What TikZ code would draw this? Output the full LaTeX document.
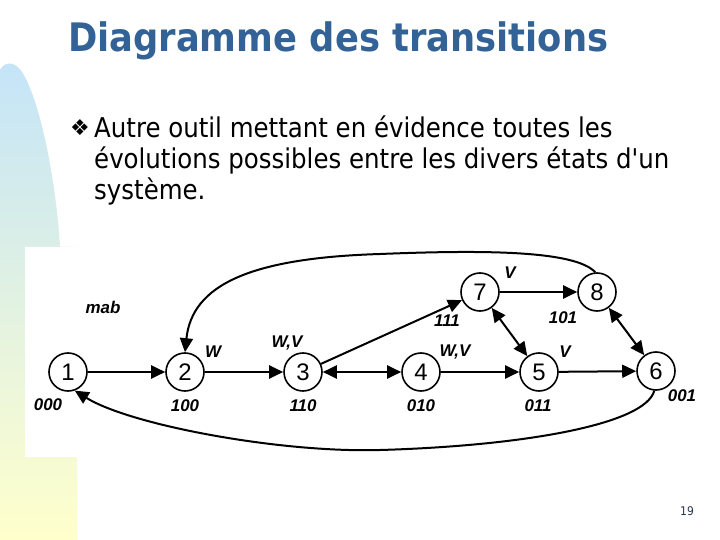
\documentclass[tikz,border=0pt]{standalone}
\usepackage{fontspec}
\setmainfont{DejaVu Sans Condensed}[Ligatures=TeXOff]
\newfontfamily\arialfont{Liberation Sans}
\newfontfamily\symbolfont{DejaVu Sans}
\usetikzlibrary{arrows.meta}
\definecolor{titleblue}{RGB}{50,98,150}
\definecolor{sideblue}{RGB}{196,228,248}
\definecolor{sideyellow}{RGB}{255,255,204}
\definecolor{pagegray}{RGB}{40,55,80}

\begin{document}
\begin{tikzpicture}[x=1bp,y=-1bp,
	>={Triangle[length=14bp,width=13bp]},
	etat/.style={draw, circle, line width=1.6bp, minimum size=38bp, inner sep=0pt, font=\arialfont\fontsize{24}{24}\selectfont},
	code/.style={font=\arialfont\bfseries\itshape\fontsize{17}{17}\selectfont, inner sep=0pt},
	trans/.style={line width=2bp, ->}]
	\useasboundingbox (0,0) rectangle (720,540);
	% Fond %
	\fill [white] (0,0) rectangle (720,540);
	\shade [top color=sideblue, bottom color=sideyellow] (0,540) -- (77,540) -- (77,247) -- (60,247) .. controls (56,180) and (40,100) .. (22,72) .. controls (14,60) and (4,62) .. (0,70) -- cycle;
	\fill [white] (25,247) rectangle (705,457);
	% Texte %
	\node [anchor=base west, inner sep=0pt, text=titleblue, font=\bfseries\fontsize{39.4}{39.4}\selectfont] (titre) at (68,52) {Diagramme des transitions};
	\node [inner sep=0pt, font=\symbolfont\fontsize{22}{22}\selectfont] (puce) at (80,128) {❖};
	\node [anchor=base west, inner sep=0pt, font=\fontsize{27.3}{27.3}\selectfont] (ligne1) at (94,138) {Autre outil mettant en évidence toutes les};
	\node [anchor=base west, inner sep=0pt, font=\fontsize{27.3}{27.3}\selectfont] (ligne2) at (94,169) {évolutions possibles entre les divers états d'un};
	\node [anchor=base west, inner sep=0pt, font=\fontsize{27.3}{27.3}\selectfont] (ligne3) at (94,200) {système.};
	\node [text=pagegray, font=\fontsize{12}{12}\selectfont] (page) at (687,511) {19};
	% Etats %
	\node [etat] (s1) at (68,372) {1};
	\node [etat] (s2) at (185,372) {2};
	\node [etat] (s3) at (303,372) {3};
	\node [etat] (s4) at (421,372) {4};
	\node [etat] (s5) at (539,372) {5};
	\node [etat] (s6) at (656,371) {6};
	\node [etat] (s7) at (480,292) {7};
	\node [etat] (s8) at (597,292) {8};
	% Codes %
	\node [code] (c1) at (48,405) {000};
	\node [code] (c2) at (185,406) {100};
	\node [code] (c3) at (303,406) {110};
	\node [code] (c4) at (421,406) {010};
	\node [code] (c5) at (538,406) {011};
	\node [code] (c6) at (682,396) {001};
	\node [code] (c7) at (447,321) {111};
	\node [code] (c8) at (563,318) {101};
	\node [code] (mab) at (103,307) {mab};
	\node [code] (w2) at (213,352) {W};
	\node [code] (wv3) at (287,343) {W,V};
	\node [code] (wv4) at (455,352) {W,V};
	\node [code] (v5) at (565,352) {V};
	\node [code] (v7) at (510,273) {V};
	% Transitions %
	\draw [trans] (s1) -- (s2);
	\draw [trans] (s2) -- (s3);
	\draw [trans,<->] (s3) -- (s4);
	\draw [trans] (s4) -- (s5);
	\draw [trans] (s5) -- (s6);
	\draw [trans] (s3) -- (s7);
	\draw [trans] (s7) -- (s8);
	\draw [trans,<->] (s7) -- (s5);
	\draw [trans,<->] (s8) -- (s6);
	\draw [trans] (s8.95) .. controls (575,250) and (480,250) .. (380,254) .. controls (250,258) and (192,285) .. (s2.north);
	\draw [trans] (s6.-95) .. controls (645,425) and (520,446) .. (380,450) .. controls (280,453) and (130,425) .. (s1.-70);
\end{tikzpicture}
\end{document}
